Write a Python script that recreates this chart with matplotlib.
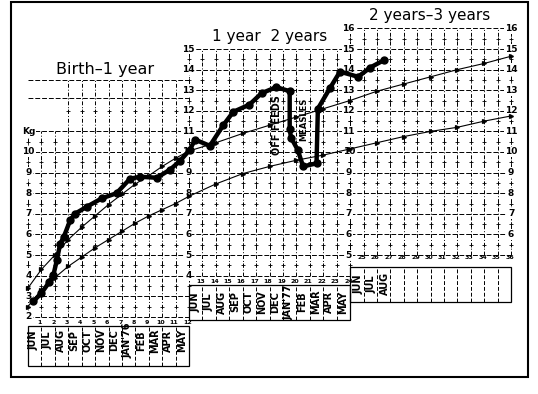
import matplotlib
matplotlib.use('Agg')
import matplotlib.pyplot as plt
from matplotlib.patches import Rectangle
import numpy as np

# child's weight (months from birth, kg) - thick line with dots
child_months = [0.4, 1.0, 1.6, 1.9, 2.15, 2.4, 2.65, 3.15, 3.5, 4.4, 5.5, 6.6, 7.6, 8.35, 9.6,
                10.6, 11.3, 12.05, 12.45, 13.55, 14.55, 15.3, 16.5, 17.4, 18.5, 19.5, 19.5,
                19.6, 20.1, 20.5, 21.5, 21.6, 22.5, 23.25, 24.6, 25.5, 26.5]
child_kg = [2.75, 3.15, 3.7, 4.05, 4.75, 5.55, 5.85, 6.7, 7.0, 7.35, 7.75, 8.0, 8.7, 8.8, 8.75,
            9.15, 9.55, 10.1, 10.6, 10.3, 11.3, 11.95, 12.3, 12.85, 13.15, 12.95, 11.1,
            10.7, 10.1, 9.3, 9.45, 12.1, 13.1, 13.9, 13.65, 14.1, 14.45]

# reference curves (thin lines)
ref_months = [0, 1, 2, 3, 4, 5, 6, 7, 8, 9, 10, 11, 12, 14, 16, 18, 20, 22, 24, 26, 28, 30, 32, 34, 36]
ref_upper = [3.4, 4.3, 5.0, 5.75, 6.35, 6.9, 7.45, 7.95, 8.45, 8.85, 9.3, 9.7, 10.05, 10.45, 10.9,
             11.3, 11.7, 12.1, 12.5, 12.95, 13.3, 13.65, 14.0, 14.3, 14.65]
ref_lower = [2.5, 3.3, 3.9, 4.45, 4.9, 5.35, 5.75, 6.15, 6.55, 6.9, 7.2, 7.5, 7.85, 8.45, 8.95,
             9.3, 9.6, 9.85, 10.15, 10.45, 10.75, 11.0, 11.2, 11.5, 11.75]

months_1 = ['JUN', 'JUL', 'AUG', 'SEP', 'OCT', 'NOV', 'DEC', "JAN'76", 'FEB', 'MAR', 'APR', 'MAY']
months_2 = ['JUN', 'JUL', 'AUG', 'SEP', 'OCT', 'NOV', 'DEC', "JAN'77", 'FEB', 'MAR', 'APR', 'MAY']
months_3 = ['JUN', 'JUL', 'AUG']

titles = ['Birth\u20131 year', '1 year  2 years', '2 years\u20133 years']
notes = ['OFF FEEDS', 'MEASLES']

# panel layout: first month, last month, lowest kg, highest kg
panels = [(0, 12, 2, 11), (12, 24, 4, 15), (24, 36, 5, 16)]
# rows for month numbers / month-name boxes (kg units)
num_rows = [1.72, 3.72, 4.88]
box_rows = [(-0.4, 1.55), (1.84, 3.54), (2.72, 4.42)]
name_rows = [0.85, 2.72, 3.6]
name_shift = [0.45, 0.45, 0.6]

fig = plt.figure(figsize=(5.38, 3.94), dpi=100)
ax = fig.add_axes([0, 0, 1, 1])
ax.set_xlim(-28 / 13.42, (538 - 28) / 13.42)
ax.set_ylim(10 - (394 - 152) / 20.6, 10 + 152 / 20.6)
ax.axis('off')

gk = dict(color='k', lw=0.7, zorder=1)
lab = dict(fontsize=6.5, fontweight='bold', ha='center', va='center', zorder=3,
           bbox=dict(facecolor='white', edgecolor='none', pad=0.6))


def draw_grid(m0, m1, k0, k1):
    for k in range(k0, k1 + 1):
        ax.plot([m0, m1], [k, k], ls=(0, (5, 2)), **gk)
    for m in range(m0, m1 + 1):
        ax.plot([m, m], [k0, k1], ls=(0, (4, 2, 1, 2)), **gk)
    mm, hh = np.meshgrid(np.arange(m0, m1 + 1), np.arange(k0 + 0.5, k1, 1.0))
    ax.plot(mm.ravel(), hh.ravel(), '+', color='k', ms=2.8, mew=0.6, zorder=1)


for (m0, m1, k0, k1), nr, (b0, b1), tr, sh, names in zip(panels, num_rows, box_rows, name_rows,
                                                         name_shift, [months_1, months_2, months_3]):
    draw_grid(m0, m1, k0, k1)
    # month numbers
    for m in range(m0 + 1, m1 + 1):
        ax.text(m - 0.12, nr, str(m), fontsize=4.5, fontweight='bold', ha='center', va='center', zorder=3)
    # month name box
    ax.add_patch(Rectangle((m0, b0), m1 - m0, b1 - b0, fill=False, lw=0.9, ec='k', zorder=1))
    for m in range(m0 + 1, m1):
        ax.plot([m, m], [b0, b1], ls=(0, (4, 2)), **gk)
    for i, name in enumerate(names):
        ax.text(m0 + i + sh, tr, name, rotation=90, fontsize=7, fontweight='bold',
                ha='center', va='center', zorder=3)

# extra grid above panel 1
for k in [12.6, 13.5]:
    ax.plot([0, 12], [k, k], ls=(0, (5, 2)), **gk)
for m in range(3, 12):
    ax.plot([m, m], [11, 13.5], ls=(0, (4, 2, 1, 2)), **gk)
ax.plot(np.arange(3, 12), np.full(9, 12.0), '+', color='k', ms=2.8, mew=0.6, zorder=1)

# weight scale labels
for k in range(2, 11):
    ax.text(0.05, k, str(k), **lab)
ax.text(0.05, 11, 'Kg', **lab)
for k in range(4, 16):
    ax.text(11.95, k, str(k), **lab)
for k in range(5, 17):
    ax.text(23.9, k, str(k), **lab)
for k in range(6, 17):
    ax.text(36.0, k, str(k), **lab)

# reference curves
for ref in [ref_upper, ref_lower]:
    ax.plot(ref_months, ref, color='k', lw=0.8, marker='>', ms=2.8, zorder=4)

# child's weight
ax.plot(child_months, child_kg, color='k', lw=3.2, marker='o', ms=5, zorder=5)

ax.text(18.55, 11.3, notes[0], rotation=90, fontsize=7, fontweight='bold',
        ha='center', va='center', zorder=4)
ax.text(20.55, 11.6, notes[1], rotation=90, fontsize=6, fontweight='bold',
        ha='center', va='center', zorder=4)

ax.text(5.74, 14.0, titles[0], fontsize=11.5, ha='center', va='center')
ax.text(18.03, 15.6, titles[1], fontsize=11, ha='center', va='center')
ax.text(29.96, 16.65, titles[2], fontsize=11, ha='center', va='center')

ax.add_patch(Rectangle((11 / 538, 1 - 377 / 394), 517 / 538, 375 / 394, transform=ax.transAxes,
                       fill=False, lw=1.5, ec='k'))

fig.savefig('out.png', dpi=100)
